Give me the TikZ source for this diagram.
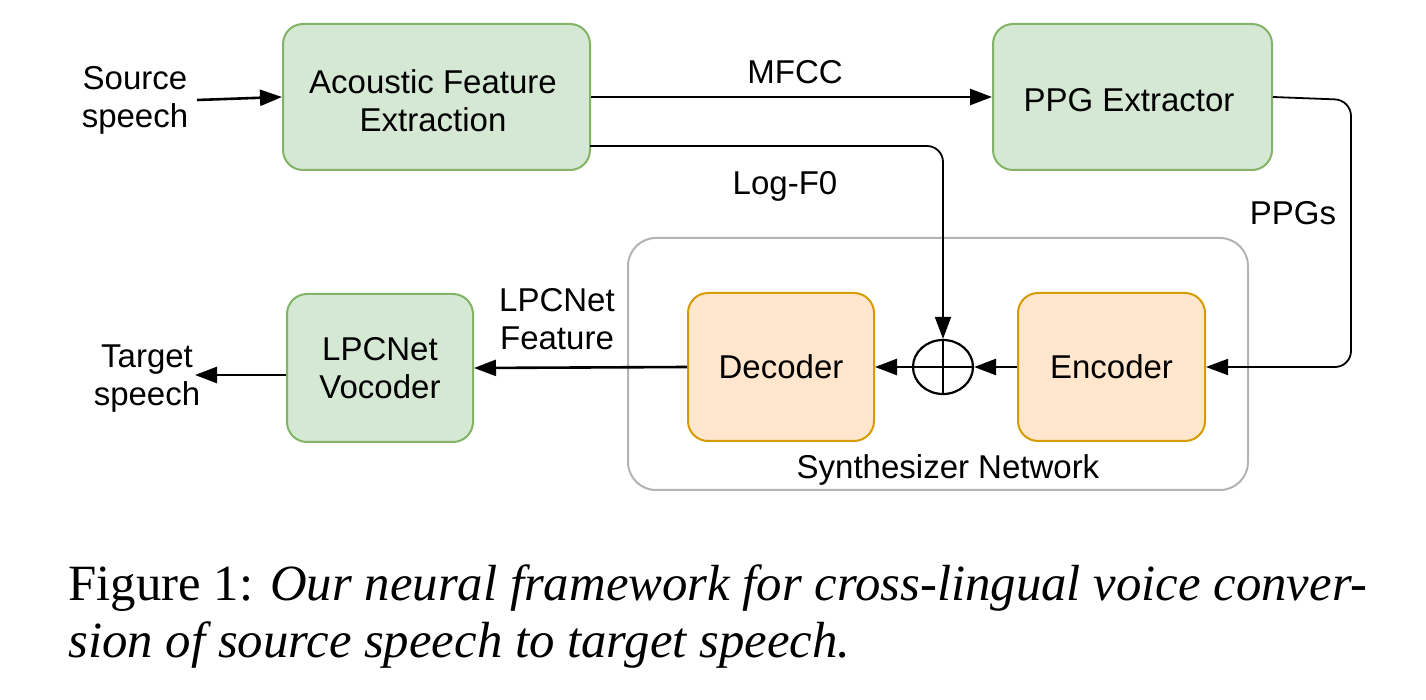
\documentclass[tikz,border=0pt]{standalone}
\usepackage{fontspec}
\setmainfont{Liberation Serif}
\newfontfamily\diagfont{Liberation Sans}
\usetikzlibrary{arrows.meta,calc,shapes.geometric}
\definecolor{gfill}{HTML}{D5E8D4}
\definecolor{gdraw}{HTML}{82B366}
\definecolor{ofill}{HTML}{FFE6CC}
\definecolor{odraw}{HTML}{D79B00}
\definecolor{cdraw}{HTML}{B3B3B3}
\tikzset{
  lbl/.style={font=\diagfont\fontsize{16.5}{19}\selectfont, align=center, inner sep=0pt},
  gbox/.style={lbl, draw=gdraw, fill=gfill, line width=1pt, rounded corners=10pt},
  obox/.style={lbl, draw=odraw, fill=ofill, line width=1pt, rounded corners=10pt},
  cbox/.style={draw=cdraw, fill=white, line width=1pt, rounded corners=14pt, inner sep=0pt},
  arr/.style={-{Triangle[length=11pt,width=8pt]}, line width=1.3pt},
  tarr/.style={-{Triangle[length=11pt,width=8pt]}, line width=0.9pt, rounded corners=8pt},
  captext/.style={font=\fontsize{25.4}{30}\selectfont, anchor=base west, inner sep=0pt},
}
\begin{document}
\begin{tikzpicture}[x=0.5pt,y=-0.5pt]
\useasboundingbox (0,0) rectangle (1426,700);
% container
\node[cbox, minimum width=310pt, minimum height=126pt] (syn) at (938,364) {};
\node[lbl] (synlbl) at (948,470) {Synthesizer Network};
% boxes
\node[gbox, minimum width=153.5pt, minimum height=73pt] (afe) at (436.5,97) {};
\node[lbl] (afetext) at (433,101) {Acoustic Feature\\Extraction};
\node[gbox, minimum width=139.5pt, minimum height=73pt] (ppg) at (1132.5,97) {};
\node[lbl] (ppgtext) at (1129,100) {PPG Extractor};
\node[gbox, minimum width=93pt, minimum height=74pt] (voc) at (380,368) {LPCNet\\Vocoder};
\node[obox, minimum width=93pt, minimum height=74pt] (dec) at (781,367) {Decoder};
\node[obox, minimum width=93.5pt, minimum height=74pt] (enc) at (1111.5,367) {Encoder};
\node[ellipse, draw, line width=1.1pt, minimum width=30pt, minimum height=27pt, inner sep=0pt] (plus) at (943,367) {};
\draw[line width=1.1pt] (plus.north) -- (plus.south) (plus.west) -- (plus.east);
% free labels
\node[lbl] (src) at (135,100) {Source\\speech};
\node[lbl] (tgt) at (147,379) {Target\\speech};
\node[lbl] (mfcc) at (795,72) {MFCC};
\node[lbl] (logf0) at (785,186) {Log-F0};
\node[lbl] (ppgs) at (1293,213) {PPGs};
\node[lbl] (lpcf) at (557,319) {LPCNet\\Feature};
% coordinates
\coordinate (srcend) at (197,100);
\coordinate (lfstart) at (590,146);
\coordinate (ppgturn) at (1351,100);
\coordinate (tgtend) at (195,375);
% connectors
\draw[arr] (srcend) -- (afe.west);
\draw[arr] (afe.east) -- (ppg.west);
\draw[tarr] (lfstart) -| (plus.north);
\draw[tarr] (ppg.east) -- (ppgturn) |- (enc.east);
\draw[arr] (enc.west) -- (plus.east);
\draw[arr] (plus.west) -- (dec.east);
\draw[arr] (dec.west) -- (voc.east);
\draw[arr] ($(voc.west)+(0,7)$) -- (tgtend);
% caption
\node[captext] (cap1) at (68,600) {Figure 1: \textit{Our neural framework for cross-lingual voice conver-}};
\node[captext] (cap2) at (68,657) {\textit{sion of source speech to target speech.}};
\end{tikzpicture}
\end{document}
